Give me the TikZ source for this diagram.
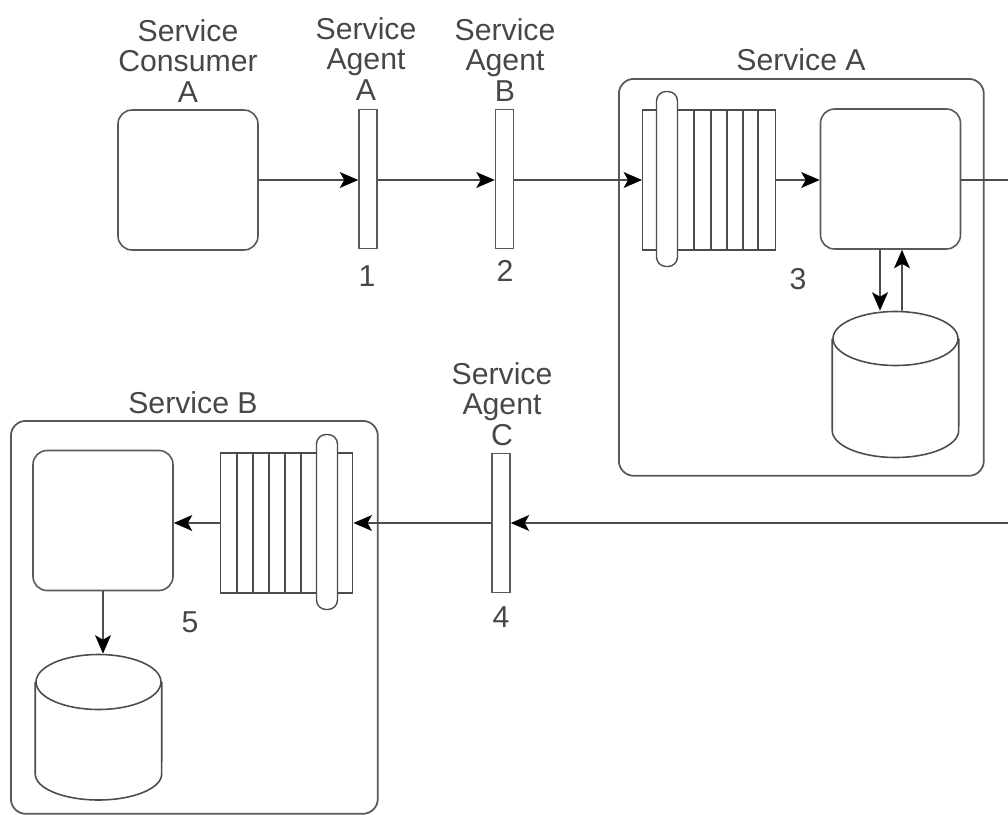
\documentclass[tikz,border=0pt]{standalone}
\usepackage{fontspec}
\setmainfont{Liberation Sans}
\usetikzlibrary{arrows.meta,shapes.geometric}
\tikzset{
	box/.style={draw=black!65, line width=0.9pt, rounded corners=0.28cm, minimum width=2.8cm, minimum height=2.8cm, inner sep=0pt, fill=white},
	outerbox/.style={draw=black!65, line width=1pt, rounded corners=0.3cm, inner sep=0pt, anchor=north west},
	agentbar/.style={draw=black!65, line width=0.8pt, minimum width=0.36cm, minimum height=2.78cm, inner sep=0pt},
	queuebox/.style={draw=black!70, line width=0.8pt, minimum width=2.65cm, minimum height=2.8cm, inner sep=0pt},
	pill/.style={draw=black!70, line width=0.8pt, fill=white, rounded corners=0.19cm, minimum width=0.42cm, minimum height=3.5cm, inner sep=0pt},
	storetop/.style={draw=black!70, line width=0.9pt, ellipse, fill=white, minimum width=2.5cm, inner sep=0pt},
	storeline/.style={draw=black!70, line width=0.9pt},
	flow/.style={draw=black!70, line width=0.9pt, -{Stealth[length=10.5pt,width=9pt,inset=2.5pt,black]}},
	label/.style={font=\fontsize{17.2}{17.5}\selectfont, text=black!72, align=center, inner sep=0pt}
}
\begin{document}
\begin{tikzpicture}[x=0.02cm, y=-0.02cm]
	\useasboundingbox (0,0) rectangle (1008,815);
	\node[outerbox, minimum width=7.3cm, minimum height=7.94cm] (svcA) at (618,78) {};
	\node[outerbox, minimum width=7.34cm, minimum height=7.86cm] (svcB) at (10,420) {};

	\node[box] (consumer) at (188,180) {};
	\node[agentbar] (agentA) at (368,179) {};
	\node[agentbar] (agentB) at (504.5,179) {};
	\node[agentbar] (agentC) at (501,523) {};

	\node[queuebox] (queueA) at (709,180) {};
	\foreach \x in {694,711,727,743,758} {
		\draw[black!70, line width=0.8pt] (\x,110) -- (\x,250);
	}
	\node[pill] (pillA) at (667,179) {};
	\node[box] (procA) at (890.5,179) {};
	\node[storetop, minimum height=1.08cm] (dbA) at (895.5,338.5) {};
	\draw[storeline] (dbA.west) -- ++(0,92) arc[start angle=180, end angle=360, x radius=1.265cm, y radius=0.54cm] -- (dbA.east);

	\node[queuebox] (queueB) at (286.5,523) {};
	\foreach \x in {237,253,269,285,301} {
		\draw[black!70, line width=0.8pt] (\x,453) -- (\x,593);
	}
	\node[pill] (pillB) at (327,522) {};
	\node[box] (procB) at (103,520.5) {};
	\node[storetop, minimum height=1.1cm] (dbB) at (98.5,682) {};
	\draw[storeline] (dbB.west) -- ++(0,92) arc[start angle=180, end angle=360, x radius=1.265cm, y radius=0.52cm] -- (dbB.east);

	\coordinate (exitA) at (1008,180);
	\coordinate (backC) at (1008,523);

	\draw[flow] (consumer.east) -- (consumer.east -| agentA.west);
	\draw[flow] (consumer.east -| agentA.east) -- (consumer.east -| agentB.west);
	\draw[flow] (consumer.east -| agentB.east) -- (queueA.west);
	\draw[flow] (queueA.east) -- (queueA.east -| procA.west);
	\draw[black!70, line width=0.9pt] (queueA.east -| procA.east) -- (exitA);
	\draw[flow] ([xshift=-0.21cm]procA.south) -- ([xshift=-0.31cm]dbA.north);
	\draw[flow] ([xshift=0.13cm]dbA.north) -- ([xshift=0.23cm]procA.south);
	\draw[flow] (backC) -- (agentC.east);
	\draw[flow] (agentC.west) -- (queueB.east);
	\draw[flow] (queueB.west) -- (queueB.west -| procB.east);
	\draw[flow] (procB.south) -- (procB.south |- dbB.north);

	\node[label] (lblConsumer) at (188,61) {Service\\Consumer\\A};
	\node[label] (lblAgentA) at (366,59) {Service\\Agent\\A};
	\node[label] (lblAgentB) at (505,60) {Service\\Agent\\B};
	\node[label] (lblAgentC) at (502,404) {Service\\Agent\\C};
	\node[label] (lblSvcA) at (801,60) {Service A};
	\node[label] (lblSvcB) at (193,403) {Service B};
	\foreach \x/\y/\num in {367/276/1, 505/271/2, 798/279/3, 501/617/4, 190/622/5} {
		\node[label] (num\num) at (\x,\y) {\num};
	}
\end{tikzpicture}
\end{document}
